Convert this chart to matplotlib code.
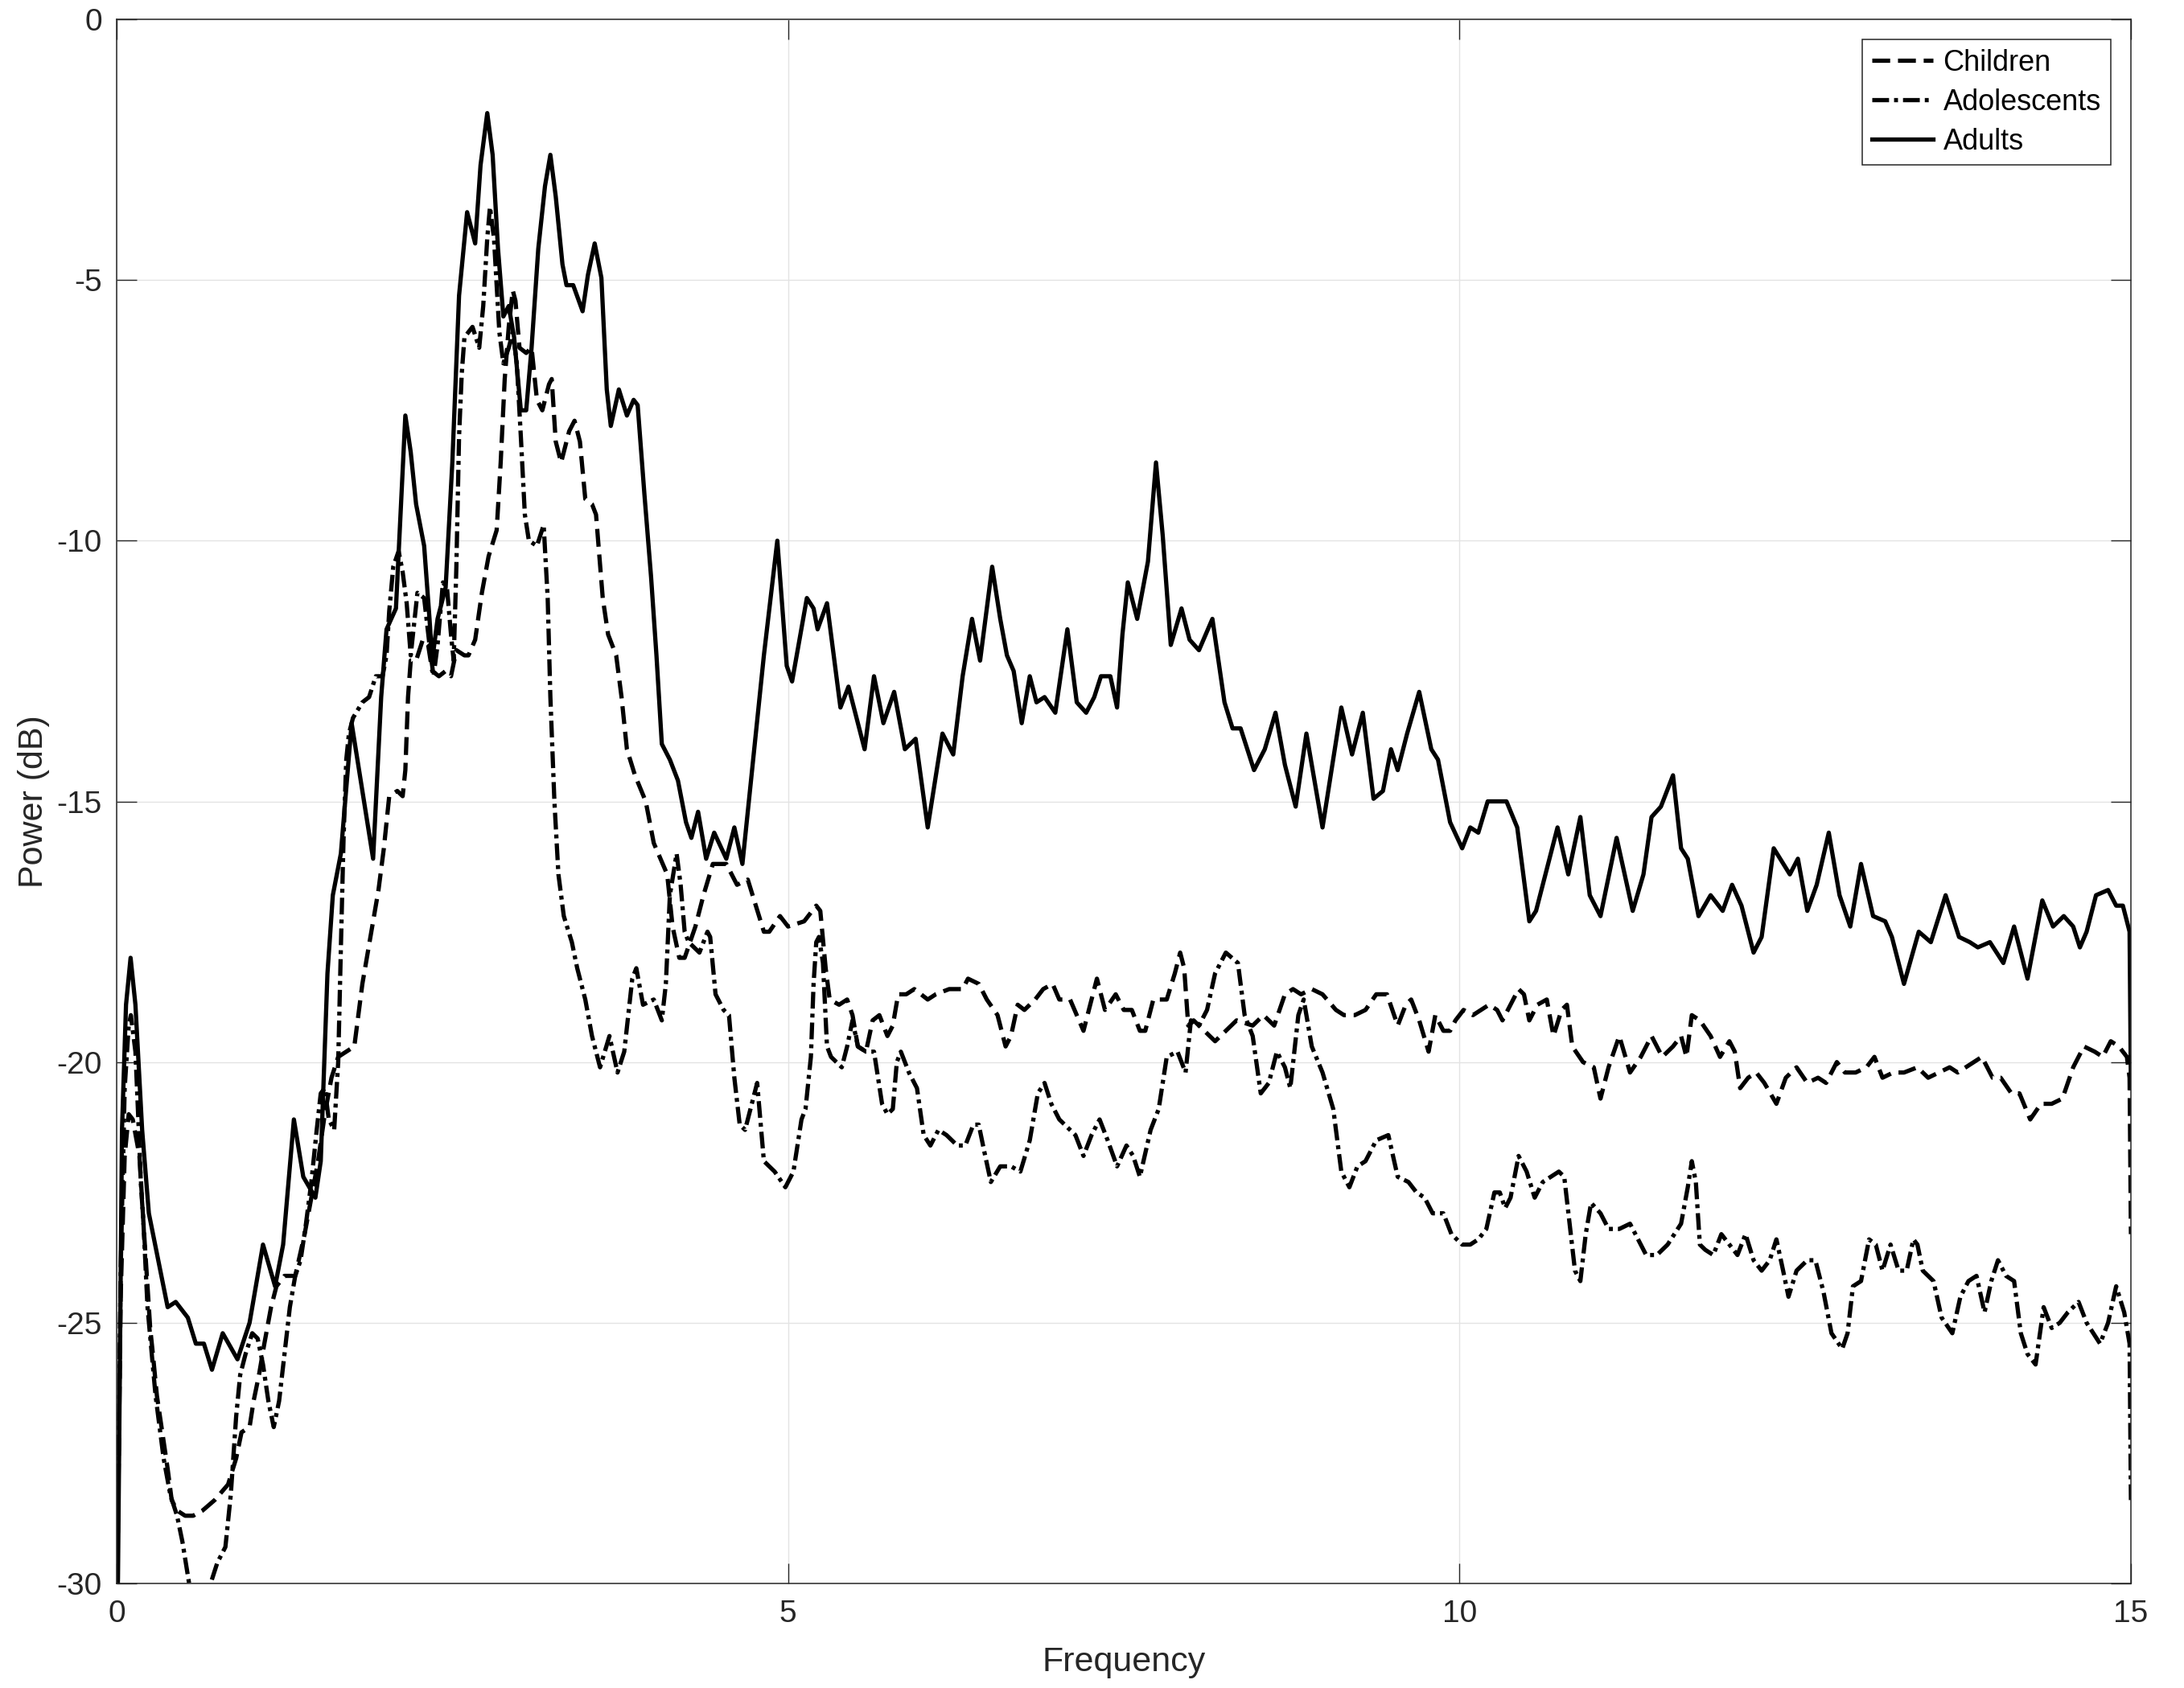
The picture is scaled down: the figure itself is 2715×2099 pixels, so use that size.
import matplotlib
matplotlib.use("Agg")
import matplotlib.pyplot as plt

plt.rcParams['font.family'] = ['Liberation Sans', 'DejaVu Sans']
plt.rcParams['lines.scale_dashes'] = False
plt.rcParams['axes.unicode_minus'] = False

# ---- data (frequency, dB) ----
children_f = [0.0, 0.03, 0.06, 0.09, 0.12, 0.17, 0.20, 0.22, 0.25, 0.27, 0.30, 0.34, 0.38, 0.41, 0.45,
              0.51, 0.57, 0.64, 0.73, 0.83, 0.89, 0.93, 0.99, 1.02, 1.06, 1.10, 1.15, 1.19, 1.25, 1.33,
              1.40, 1.45, 1.50, 1.55, 1.60, 1.65, 1.71, 1.77, 1.83, 1.89, 1.95, 1.99, 2.03, 2.09, 2.13,
              2.15, 2.17, 2.19, 2.23, 2.28, 2.32, 2.35, 2.40, 2.45, 2.49, 2.53, 2.59, 2.62, 2.67, 2.72,
              2.77, 2.83, 2.86, 2.89, 2.92, 2.95, 2.97, 3.00, 3.05, 3.09, 3.13, 3.17, 3.22, 3.24, 3.27,
              3.31, 3.37, 3.41, 3.45, 3.49, 3.54, 3.57, 3.62, 3.66, 3.72, 3.76, 3.80, 3.86, 3.94, 4.00,
              4.10, 4.14, 4.19, 4.23, 4.31, 4.37, 4.44, 4.54, 4.62, 4.70, 4.76, 4.82, 4.86, 4.94, 5.00,
              5.12, 5.21, 5.24, 5.28, 5.31, 5.38, 5.44, 5.48, 5.52, 5.58, 5.63, 5.68, 5.74, 5.78, 5.82,
              5.88, 5.94, 6.04, 6.10, 6.20, 6.30, 6.34, 6.42, 6.48, 6.56, 6.62, 6.66, 6.71, 6.76, 6.84,
              6.90, 6.97, 7.02, 7.10, 7.20, 7.26, 7.30, 7.36, 7.44, 7.50, 7.56, 7.62, 7.66, 7.72, 7.82,
              7.88, 7.92, 7.95, 7.98, 8.02, 8.10, 8.18, 8.26, 8.34, 8.46, 8.54, 8.62, 8.66, 8.70, 8.76,
              8.82, 8.90, 8.98, 9.08, 9.14, 9.22, 9.30, 9.38, 9.46, 9.54, 9.60, 9.64, 9.70, 9.77, 9.82,
              9.88, 9.93, 9.97, 10.03, 10.10, 10.16, 10.22, 10.28, 10.32, 10.38, 10.44, 10.48, 10.52,
              10.58, 10.65, 10.70, 10.76, 10.80, 10.84, 10.92, 11.00, 11.05, 11.11, 11.19, 11.27, 11.35,
              11.43, 11.51, 11.59, 11.65, 11.69, 11.73, 11.79, 11.87, 11.94, 12.01, 12.05, 12.09, 12.15,
              12.21, 12.27, 12.36, 12.43, 12.51, 12.59, 12.67, 12.73, 12.81, 12.87, 12.95, 13.03, 13.09,
              13.15, 13.23, 13.31, 13.41, 13.49, 13.57, 13.65, 13.71, 13.77, 13.89, 13.97, 14.03, 14.11,
              14.17, 14.25, 14.33, 14.41, 14.49, 14.57, 14.65, 14.73, 14.79, 14.85, 14.91, 14.97, 14.99,
              15.0]
children_db = [-31, -24.5, -21.8, -21.0, -21.1, -21.8, -23.1, -23.9, -25.1, -25.6, -26.4, -27.1, -27.8,
               -28.4, -28.6, -28.7, -28.7, -28.6, -28.4, -28.1, -27.6, -27.1, -27.0, -26.5, -26.0, -25.4,
               -24.7, -24.3, -24.1, -24.1, -23.3, -22.6, -21.9, -21.0, -20.3, -19.9, -19.8, -19.7, -18.5,
               -17.6, -16.7, -15.9, -14.9, -14.8, -14.9, -14.4, -13.0, -12.3, -12.3, -11.9, -12.0, -12.5,
               -12.6, -12.5, -12.6, -12.1, -12.2, -12.2, -11.9, -11.0, -10.3, -9.8, -8.5, -6.9, -5.9,
               -5.2, -5.4, -6.3, -6.4, -6.3, -7.3, -7.5, -7.0, -6.9, -8.1, -8.5, -7.9, -7.7, -8.1, -9.2,
               -9.3, -9.5, -11.1, -11.8, -12.2, -13.0, -14.0, -14.5, -15.0, -15.8, -16.4, -17.4, -18.0,
               -18.0, -17.4, -16.8, -16.2, -16.2, -16.6, -16.5, -17.0, -17.5, -17.5, -17.2, -17.4, -17.3,
               -17.0, -17.1, -18.2, -18.8, -18.9, -18.8, -19.1, -19.7, -19.8, -19.2, -19.1, -19.5, -19.3,
               -18.7, -18.7, -18.6, -18.8, -18.7, -18.6, -18.6, -18.4, -18.5, -18.8, -19.1, -19.7, -19.5,
               -18.9, -19.0, -18.8, -18.6, -18.5, -18.8, -18.8, -19.4, -18.8, -18.4, -19.0, -18.7, -19.0,
               -19.0, -19.4, -19.4, -18.8, -18.8, -18.3, -17.9, -18.2, -19.3, -19.2, -19.4, -19.6, -19.4,
               -19.2, -19.3, -19.1, -19.3, -19.0, -18.7, -18.6, -18.7, -18.6, -18.7, -19.0, -19.1, -19.1,
               -19.0, -18.7, -18.7, -19.3, -18.9, -18.8, -19.2, -19.8, -19.1, -19.4, -19.4, -19.2, -19.0,
               -19.1, -19.0, -18.9, -19.0, -19.2, -18.9, -18.6, -18.7, -19.2, -18.9, -18.8, -19.5, -19.0,
               -18.9, -19.7, -20.0, -20.1, -20.7, -20.1, -19.5, -20.2, -19.9, -19.5, -19.9, -19.7, -19.5,
               -19.9, -19.1, -19.2, -19.5, -19.9, -19.6, -19.8, -20.5, -20.3, -20.2, -20.4, -20.8, -20.3,
               -20.1, -20.4, -20.3, -20.4, -20.0, -20.2, -20.2, -20.1, -19.9, -20.3, -20.2, -20.2, -20.1,
               -20.3, -20.2, -20.1, -20.2, -20.1, -19.9, -20.3, -20.3, -20.6, -20.6, -21.1, -20.8, -20.8,
               -20.7, -20.1, -19.7, -19.8, -19.9, -19.6, -19.7, -19.9, -20.3, -23.3]

adolescents_f = [0.0, 0.03, 0.06, 0.09, 0.106, 0.14, 0.16, 0.18, 0.20, 0.23, 0.29, 0.35, 0.40, 0.45, 0.49,
                 0.54, 0.60, 0.66, 0.70, 0.75, 0.81, 0.85, 0.89, 0.92, 0.96, 1.01, 1.05, 1.09, 1.13, 1.17,
                 1.21, 1.25, 1.29, 1.33, 1.37, 1.41, 1.45, 1.49, 1.52, 1.55, 1.58, 1.62, 1.65, 1.67, 1.69,
                 1.71, 1.73, 1.76, 1.83, 1.88, 1.93, 1.98, 2.01, 2.03, 2.06, 2.10, 2.13, 2.16, 2.19, 2.24,
                 2.29, 2.33, 2.36, 2.39, 2.43, 2.46, 2.49, 2.51, 2.53, 2.55, 2.57, 2.59, 2.65, 2.70, 2.73,
                 2.76, 2.78, 2.81, 2.85, 2.88, 2.92, 2.95, 2.98, 3.01, 3.04, 3.07, 3.13, 3.18, 3.21, 3.23,
                 3.26, 3.29, 3.33, 3.39, 3.43, 3.49, 3.54, 3.60, 3.67, 3.73, 3.78, 3.84, 3.87, 3.92, 4.00,
                 4.06, 4.09, 4.12, 4.17, 4.20, 4.23, 4.26, 4.34, 4.40, 4.42, 4.46, 4.52, 4.56, 4.60, 4.64,
                 4.68, 4.72, 4.77, 4.82, 4.90, 4.98, 5.04, 5.10, 5.13, 5.17, 5.19, 5.21, 5.23, 5.26, 5.29,
                 5.32, 5.40, 5.44, 5.48, 5.52, 5.58, 5.64, 5.70, 5.74, 5.78, 5.81, 5.84, 5.90, 5.96, 6.01,
                 6.06, 6.12, 6.18, 6.26, 6.32, 6.38, 6.42, 6.46, 6.51, 6.58, 6.66, 6.73, 6.80, 6.86, 6.91,
                 6.96, 7.02, 7.10, 7.14, 7.20, 7.26, 7.32, 7.38, 7.45, 7.52, 7.57, 7.62, 7.70, 7.76, 7.82,
                 7.90, 7.96, 8.00, 8.06, 8.12, 8.18, 8.26, 8.35, 8.40, 8.46, 8.52, 8.58, 8.64, 8.70, 8.74,
                 8.80, 8.84, 8.90, 8.98, 9.06, 9.12, 9.18, 9.24, 9.30, 9.38, 9.47, 9.54, 9.62, 9.68, 9.74,
                 9.80, 9.88, 9.94, 10.02, 10.08, 10.14, 10.20, 10.26, 10.30, 10.34, 10.38, 10.44, 10.50,
                 10.56, 10.62, 10.68, 10.74, 10.78, 10.82, 10.86, 10.90, 10.94, 10.98, 11.05, 11.11, 11.19,
                 11.27, 11.33, 11.39, 11.47, 11.55, 11.65, 11.70, 11.73, 11.76, 11.79, 11.83, 11.89, 11.95,
                 12.01, 12.07, 12.13, 12.19, 12.25, 12.31, 12.36, 12.41, 12.45, 12.51, 12.59, 12.65, 12.71,
                 12.77, 12.85, 12.89, 12.93, 12.99, 13.05, 13.10, 13.15, 13.21, 13.27, 13.33, 13.38, 13.41,
                 13.45, 13.53, 13.59, 13.67, 13.73, 13.79, 13.85, 13.91, 13.96, 14.01, 14.07, 14.13, 14.18,
                 14.23, 14.29, 14.35, 14.41, 14.47, 14.53, 14.61, 14.67, 14.77, 14.83, 14.89, 14.95, 14.99,
                 15.0]
adolescents_db = [-31, -24.0, -20.5, -19.3, -19.1, -19.8, -21.0, -22.3, -23.1, -24.7, -26.4, -27.6, -28.3,
                  -28.7, -29.2, -30.0, -30.8, -30.8, -30.0, -29.6, -29.3, -28.3, -26.8, -26.0, -25.6,
                  -25.2, -25.3, -25.8, -26.5, -27.0, -26.5, -25.6, -24.7, -24.1, -23.8, -23.1, -22.3,
                  -21.3, -20.6, -20.5, -21.1, -21.3, -20.0, -17.8, -15.7, -14.2, -13.7, -13.4, -13.1,
                  -13.0, -12.6, -12.6, -12.2, -11.35, -10.5, -10.2, -10.6, -11.2, -12.2, -11.0, -11.1,
                  -12.0, -12.6, -12.0, -10.8, -10.9, -11.8, -12.3, -10.5, -8.0, -6.8, -6.1, -5.9, -6.3,
                  -5.5, -4.2, -3.6, -4.2, -6.0, -6.6, -6.3, -6.0, -6.6, -8.0, -9.5, -10.0, -10.1, -9.7,
                  -11.1, -13.0, -15.0, -16.4, -17.2, -17.7, -18.2, -18.8, -19.5, -20.1, -19.5, -20.2,
                  -19.8, -18.4, -18.2, -18.9, -18.8, -19.2, -18.5, -16.8, -16.0, -16.6, -17.5, -17.7,
                  -17.9, -17.5, -17.6, -18.7, -19.0, -19.1, -20.3, -21.2, -21.3, -20.9, -20.4, -21.9,
                  -22.1, -22.4, -22.1, -21.1, -20.9, -19.9, -18.5, -17.7, -17.6, -18.1, -19.7, -19.9,
                  -20.1, -19.7, -19.2, -19.7, -19.8, -19.8, -20.8, -21.0, -20.9, -20.0, -19.8, -20.2,
                  -20.5, -21.4, -21.6, -21.3, -21.4, -21.6, -21.6, -21.2, -21.2, -21.7, -22.3, -22.0,
                  -22.0, -22.1, -21.5, -20.6, -20.4, -20.8, -21.1, -21.3, -21.4, -21.8, -21.4, -21.1,
                  -21.5, -22.0, -21.6, -21.8, -22.2, -21.3, -20.9, -19.9, -19.8, -20.2, -19.2, -19.3,
                  -19.0, -18.3, -17.9, -18.1, -19.1, -19.5, -20.6, -20.4, -19.8, -20.1, -20.5, -19.1,
                  -18.8, -19.7, -20.2, -20.9, -22.1, -22.4, -22.0, -21.9, -21.5, -21.4, -22.2, -22.3,
                  -22.5, -22.6, -22.9, -22.9, -23.3, -23.5, -23.5, -23.4, -23.2, -22.5, -22.5, -22.8,
                  -22.6, -21.8, -22.1, -22.6, -22.3, -22.2, -22.1, -22.2, -23.1, -24.0, -24.2, -23.3,
                  -22.7, -22.9, -23.2, -23.2, -23.1, -23.4, -23.7, -23.7, -23.5, -23.1, -22.4, -21.9,
                  -22.3, -23.5, -23.6, -23.7, -23.3, -23.5, -23.7, -23.3, -23.8, -24.0, -23.8, -23.4,
                  -24.0, -24.5, -24.0, -23.8, -23.8, -24.4, -25.2, -25.5, -25.2, -24.3, -24.2, -23.4,
                  -23.5, -24.0, -23.5, -24.0, -24.0, -23.4, -23.5, -24.0, -24.2, -24.9, -25.2, -24.5,
                  -24.2, -24.1, -24.8, -24.2, -23.8, -24.1, -24.2, -25.2, -25.6, -25.8, -24.7, -25.1,
                  -25.0, -24.8, -24.6, -25.0, -25.4, -25.0, -24.3, -24.8, -25.4, -28.4]

adults_f = [0.0, 0.01, 0.04, 0.07, 0.104, 0.14, 0.19, 0.24, 0.31, 0.38, 0.44, 0.53, 0.59, 0.65, 0.71, 0.79,
            0.90, 0.99, 1.09, 1.18, 1.24, 1.32, 1.39, 1.48, 1.52, 1.57, 1.61, 1.67, 1.75, 1.83, 1.91, 1.97,
            2.01, 2.08, 2.11, 2.15, 2.19, 2.23, 2.29, 2.33, 2.35, 2.39, 2.45, 2.50, 2.55, 2.61, 2.67, 2.71,
            2.76, 2.80, 2.84, 2.88, 2.92, 2.96, 3.01, 3.05, 3.09, 3.14, 3.19, 3.23, 3.27, 3.32, 3.35, 3.40,
            3.47, 3.51, 3.56, 3.61, 3.65, 3.68, 3.74, 3.80, 3.85, 3.88, 3.93, 3.98, 4.02, 4.06, 4.12, 4.18,
            4.24, 4.28, 4.33, 4.39, 4.45, 4.54, 4.60, 4.66, 4.74, 4.82, 4.92, 4.99, 5.03, 5.14, 5.19, 5.22,
            5.29, 5.34, 5.39, 5.45, 5.51, 5.57, 5.64, 5.71, 5.79, 5.87, 5.95, 6.04, 6.15, 6.23, 6.30, 6.37,
            6.43, 6.52, 6.58, 6.63, 6.68, 6.74, 6.80, 6.85, 6.91, 6.99, 7.08, 7.15, 7.22, 7.28, 7.33, 7.40,
            7.45, 7.49, 7.53, 7.60, 7.68, 7.74, 7.79, 7.85, 7.93, 7.99, 8.06, 8.16, 8.25, 8.31, 8.37, 8.47,
            8.55, 8.63, 8.70, 8.78, 8.86, 8.98, 9.12, 9.20, 9.28, 9.36, 9.43, 9.49, 9.54, 9.61, 9.70, 9.79,
            9.84, 9.93, 10.02, 10.08, 10.14, 10.21, 10.31, 10.35, 10.43, 10.52, 10.57, 10.65, 10.73, 10.81,
            10.90, 10.97, 11.05, 11.17, 11.29, 11.37, 11.43, 11.50, 11.59, 11.65, 11.70, 11.78, 11.87,
            11.96, 12.03, 12.10, 12.19, 12.25, 12.34, 12.46, 12.52, 12.59, 12.66, 12.75, 12.83, 12.91,
            12.99, 13.08, 13.17, 13.22, 13.31, 13.42, 13.51, 13.62, 13.72, 13.80, 13.86, 13.95, 14.05,
            14.13, 14.23, 14.34, 14.42, 14.50, 14.57, 14.62, 14.67, 14.74, 14.83, 14.89, 14.94, 14.99, 15.0]
adults_db = [-31, -29.9, -21.3, -18.9, -18.0, -18.9, -21.3, -22.9, -23.8, -24.7, -24.6, -24.9, -25.4, -25.4,
             -25.9, -25.2, -25.7, -25.0, -23.5, -24.3, -23.5, -21.1, -22.2, -22.6, -21.9, -18.3, -16.8,
             -16.0, -13.5, -14.8, -16.1, -13.0, -11.7, -11.3, -9.7, -7.6, -8.3, -9.3, -10.1, -11.5, -12.3,
             -11.5, -10.9, -8.5, -5.3, -3.7, -4.3, -2.8, -1.8, -2.6, -4.4, -5.7, -5.5, -6.1, -7.5, -7.5,
             -6.3, -4.4, -3.2, -2.6, -3.4, -4.7, -5.1, -5.1, -5.6, -4.9, -4.3, -4.96, -7.1, -7.8, -7.1,
             -7.6, -7.3, -7.4, -9.1, -10.7, -12.2, -13.9, -14.2, -14.6, -15.4, -15.7, -15.2, -16.1, -15.6,
             -16.1, -15.5, -16.2, -14.2, -12.2, -10.0, -12.4, -12.7, -11.1, -11.3, -11.7, -11.2, -12.2,
             -13.2, -12.8, -13.4, -14.0, -12.6, -13.5, -12.9, -14.0, -13.8, -15.5, -13.7, -14.1, -12.6,
             -11.5, -12.3, -10.5, -11.5, -12.2, -12.5, -13.5, -12.6, -13.1, -13.0, -13.3, -11.7, -13.1,
             -13.3, -13.0, -12.6, -12.6, -13.2, -11.8, -10.8, -11.5, -10.4, -8.5, -9.9, -12.0, -11.3,
             -11.9, -12.1, -11.5, -13.1, -13.6, -13.6, -14.4, -14.0, -13.3, -14.3, -15.1, -13.7, -15.5,
             -13.2, -14.1, -13.3, -14.95, -14.8, -14.0, -14.4, -13.7, -12.9, -14.0, -14.2, -15.4, -15.9,
             -15.5, -15.6, -15.0, -15.0, -15.0, -15.5, -17.3, -17.1, -16.3, -15.5, -16.4, -15.3, -16.8,
             -17.2, -15.7, -17.1, -16.4, -15.3, -15.1, -14.5, -15.9, -16.1, -17.2, -16.8, -17.1, -16.6,
             -17.0, -17.9, -17.6, -15.9, -16.4, -16.1, -17.1, -16.6, -15.6, -16.8, -17.4, -16.2, -17.2,
             -17.3, -17.6, -18.5, -17.5, -17.7, -16.8, -17.6, -17.7, -17.8, -17.7, -18.1, -17.4, -18.4,
             -16.9, -17.4, -17.2, -17.4, -17.8, -17.5, -16.8, -16.7, -17.0, -17.0, -17.5, -20.5]

series_labels = ['Children', 'Adolescents', 'Adults']
x_ticks = [0, 5, 10, 15]
y_ticks = [-30, -25, -20, -15, -10, -5, 0]

# ---- figure ----
fig = plt.figure(figsize=(27.15, 20.99), dpi=100)
ax = fig.add_axes([0.0534, 0.0619, 0.9223, 0.9267])

dark = '#262626'
lw = 3.8
ax.plot(children_f, children_db, color='k', lw=lw, linestyle=(0, (16, 7)), label=series_labels[0])
ax.plot(adolescents_f, adolescents_db, color='k', lw=lw, linestyle=(0, (15, 4.5, 3.5, 4.5)),
        label=series_labels[1])
ax.plot(adults_f, adults_db, color='k', lw=lw, linestyle='-', label=series_labels[2])

ax.set_xlim(0, 15)
ax.set_ylim(-30, 0)
ax.set_xticks(x_ticks)
ax.set_yticks(y_ticks)
ax.grid(True, color='#e3e3e3', linewidth=1.0)
ax.set_axisbelow(True)

ax.tick_params(axis='both', direction='in', length=18, width=1.0, color=dark,
               labelsize=28, labelcolor=dark, top=True, right=True)
ax.tick_params(axis='y', pad=13)
ax.tick_params(axis='x', pad=14)
for sp in ax.spines.values():
    sp.set_color(dark)
    sp.set_linewidth(1.1)

ax.set_xlabel('Frequency', fontsize=31, color=dark, labelpad=16)
ax.set_ylabel('Power (dB)', fontsize=31, color=dark, labelpad=6)

leg = ax.legend(loc='upper right', fontsize=26, frameon=True, fancybox=False,
                framealpha=1, edgecolor=dark, borderaxespad=0.7, handlelength=2.1,
                handletextpad=0.35, labelspacing=0.38, borderpad=0.33)
leg.get_frame().set_linewidth(1.1)

fig.savefig('out.png', dpi=100, facecolor='white')
